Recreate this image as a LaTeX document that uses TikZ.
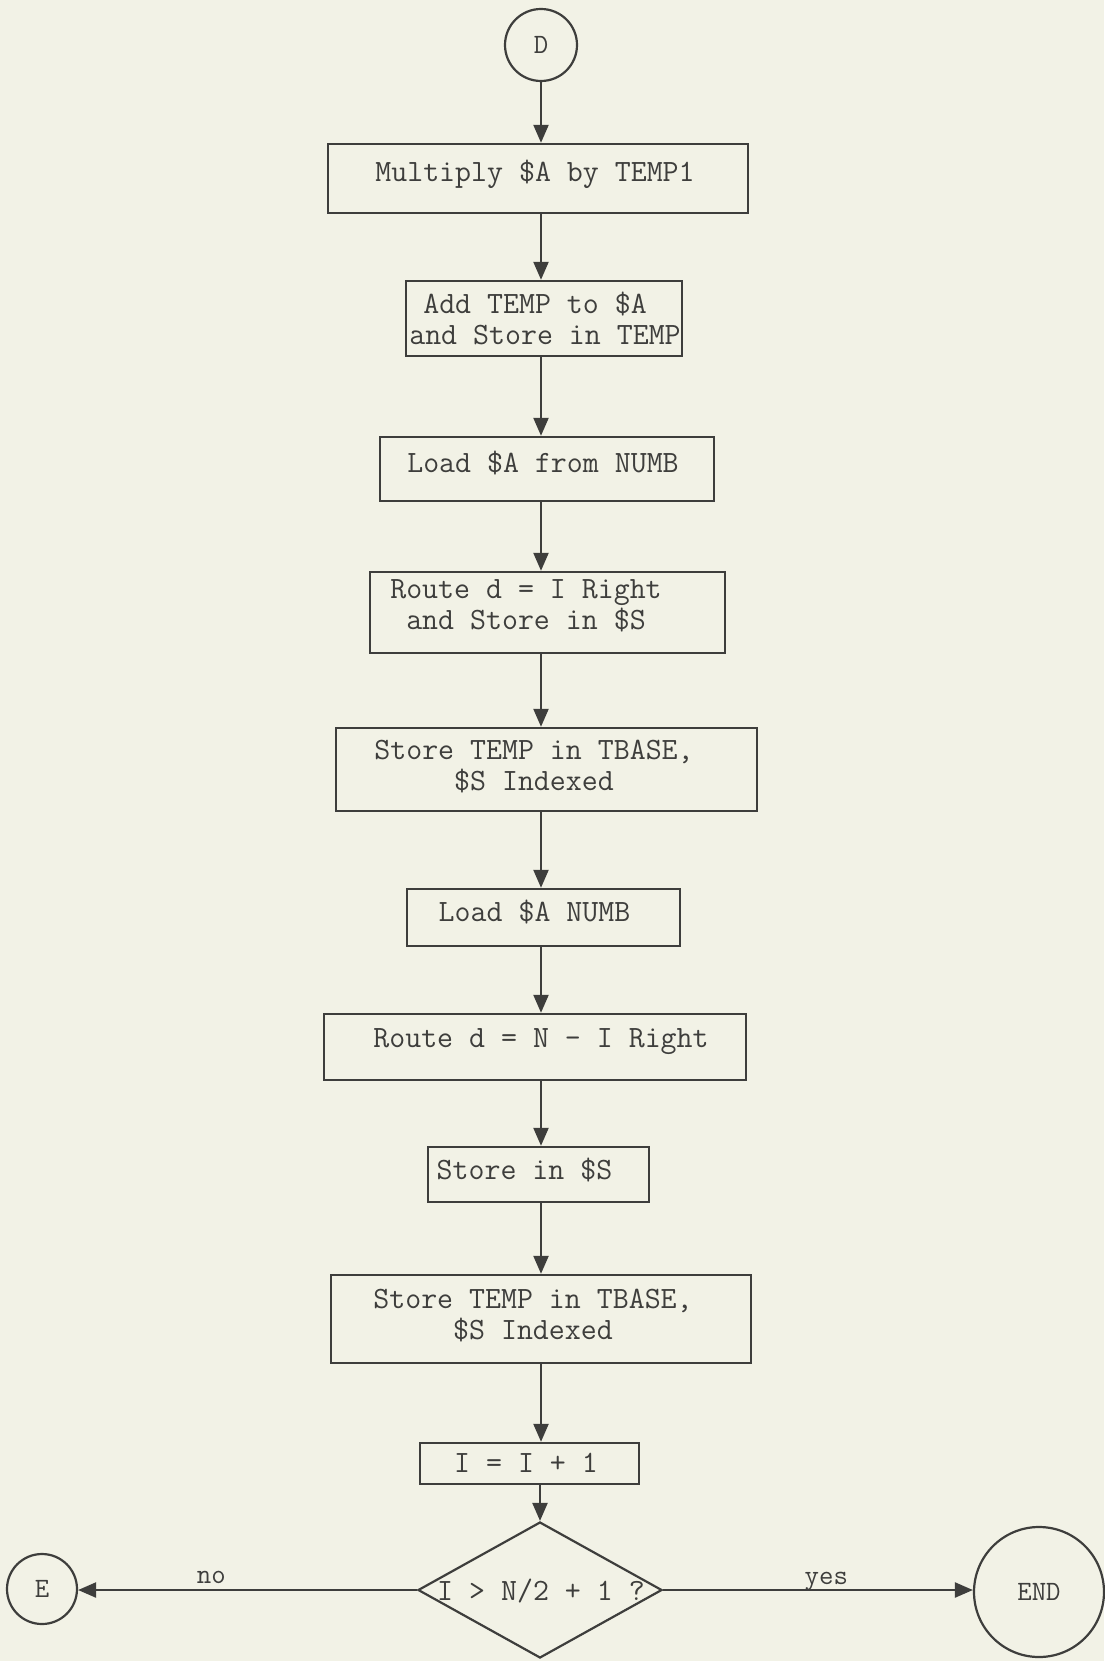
\documentclass[tikz,border=0pt]{standalone}
\usetikzlibrary{arrows.meta,shapes.geometric}
\definecolor{paper}{RGB}{242,242,230}
\definecolor{ink}{RGB}{62,62,60}
\begin{document}
\begin{tikzpicture}[x=1pt,y=-1pt,
  box/.style={draw=ink, line width=2.4pt, rectangle, inner sep=0pt},
  txt/.style={text=ink, font=\fontsize{31}{31}\selectfont\ttfamily, inner sep=0pt, align=center},
  lbl/.style={text=ink, font=\fontsize{28}{28}\selectfont\ttfamily, inner sep=0pt},
  flow/.style={draw=ink, line width=2.3pt, -{Triangle[length=18pt,width=15pt]}},
  term/.style={circle, draw=ink, line width=2.2pt, inner sep=0pt, text=ink,
               font=\fontsize{28}{28}\selectfont\ttfamily}]
% page
\fill[paper] (0,0) rectangle (1104,1661);
\useasboundingbox (0,0) rectangle (1104,1661);
% vertical flow line position
\coordinate (spine) at (541,0);

% entry connector
\node[term, minimum size=72pt] (D) at (541,45) {D};

% process boxes
\node[box, minimum width=420pt, minimum height=69pt] (b1) at (538,178.5) {};
\node[txt] (t1) at (535,174) {Multiply \$A by TEMP1};

\node[box, minimum width=276pt, minimum height=75pt] (b2) at (544,318.5) {};
\node[txt, align=left] (t2) at (545,318) {\hspace*{14pt}Add TEMP to \$A\\and Store in TEMP};

\node[box, minimum width=334pt, minimum height=64pt] (b3) at (547,469) {};
\node[txt] (t3) at (543,463) {Load \$A from NUMB};

\node[box, minimum width=355pt, minimum height=81pt] (b4) at (547.5,612.5) {};
\node[txt] (t4) at (526,606) {Route d = I Right\\and Store in \$S};

\node[box, minimum width=421pt, minimum height=83pt] (b5) at (546.5,769.5) {};
\node[txt] (t5) at (534,767) {Store TEMP in TBASE,\\\$S Indexed};

\node[box, minimum width=273pt, minimum height=57pt] (b6) at (543.5,917.5) {};
\node[txt] (t6) at (534.5,912) {Load \$A NUMB};

\node[box, minimum width=422pt, minimum height=66pt] (b7) at (535,1047) {};
\node[txt] (t7) at (541,1042) {Route d = N - I Right};

\node[box, minimum width=221pt, minimum height=55pt] (b8) at (538.5,1174.5) {};
\node[txt] (t8) at (524.5,1170) {Store in \$S};

\node[box, minimum width=420pt, minimum height=88pt] (b9) at (541,1319) {};
\node[txt] (t9) at (533,1316) {Store TEMP in TBASE,\\\$S Indexed};

\node[box, minimum width=219pt, minimum height=41pt] (b10) at (529.5,1463.5) {};
\node[txt] (t10) at (526,1463) {I = I + 1};

% decision
\node[diamond, draw=ink, line width=2.2pt, minimum width=244pt, minimum height=136pt,
      inner sep=0pt] (dec) at (540,1590) {};
\node[txt] (tq) at (541,1591) {I > N/2 + 1 ?};

% exits
\node[term, minimum size=70pt] (E) at (42,1589) {E};
\node[term, minimum size=130pt] (END) at (1039,1592) {END};

% vertical connectors
\draw[flow] (D.south) -- (b1.north -| spine);
\draw[flow] (b1.south -| spine) -- (b2.north -| spine);
\draw[flow] (b2.south -| spine) -- (b3.north -| spine);
\draw[flow] (b3.south -| spine) -- (b4.north -| spine);
\draw[flow] (b4.south -| spine) -- (b5.north -| spine);
\draw[flow] (b5.south -| spine) -- (b6.north -| spine);
\draw[flow] (b6.south -| spine) -- (b7.north -| spine);
\draw[flow] (b7.south -| spine) -- (b8.north -| spine);
\draw[flow] (b8.south -| spine) -- (b9.north -| spine);
\draw[flow] (b9.south -| spine) -- (b10.north -| spine);
\draw[flow] (b10.south -| dec.north) -- (dec.north);

% branches
\draw[flow] (dec.west) -- (dec.west -| E.east)
  node[lbl, pos=0.607, anchor=base, yshift=7pt] {no};
\draw[flow] (dec.east) -- (dec.east -| END.west)
  node[lbl, pos=0.527, anchor=base, yshift=6pt] {yes};
\end{tikzpicture}
\end{document}
